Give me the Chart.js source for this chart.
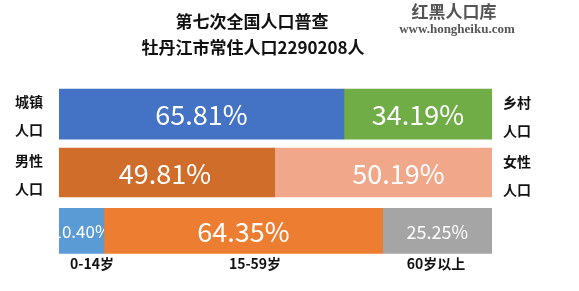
<!DOCTYPE html>
<html>
<head>
<meta charset="utf-8">
<script src="https://cdn.jsdelivr.net/npm/chart.js@4/dist/chart.umd.min.js"></script>
<style>
  html, body { margin: 0; padding: 0; background: #fff; }
  #wrap { width: 579px; height: 291px; position: relative; }
</style>
</head>
<body>
<div id="wrap"><canvas id="censusChart"></canvas></div>
<script>
// 牡丹江市 第七次人口普查 构成
const rows = ['城乡', '性别', '年龄'];
const urbanRural = [65.81, 34.19];
const maleFemale = [49.81, 50.19];
const ageGroups = [10.40, 64.35, 25.25];
const ageLabels = ['0-14岁', '15-59岁', '60岁以上'];
const leftLabels = [['城镇', '人口'], ['男性', '人口']];
const rightLabels = [['乡村', '人口'], ['女性', '人口']];
const titleLines = ['第七次全国人口普查', '牡丹江市常住人口2290208人'];

const CJK = '"Noto Sans CJK SC", "Noto Sans", sans-serif';

function onRow(rowIdx, value) {
  return rows.map((_, i) => (i === rowIdx ? value : null));
}

function seg(rowIdx, value, color, thickness, fontSize, shift = 0) {
  return {
    data: onRow(rowIdx, value),
    backgroundColor: color,
    barThickness: thickness,
    labelSize: fontSize,
    labelShift: shift,
  };
}

const datasets = [
  seg(0, urbanRural[0], '#4472C4', 50, 27),
  seg(0, urbanRural[1], '#70AD47', 50, 27),
  seg(1, maleFemale[0], '#D16D2A', 49, 27, -2),
  seg(1, maleFemale[1], '#F0A78A', 49, 27, 15),
  seg(2, ageGroups[0], '#5B9BD5', 45, 17),
  seg(2, ageGroups[1], '#ED7D31', 45, 27),
  seg(2, ageGroups[2], '#A5A5A5', 45, 18),
];

// percent text centred in each segment, clipped to the bar
const segmentLabels = {
  id: 'segmentLabels',
  afterDatasetsDraw(chart) {
    const { ctx } = chart;
    chart.data.datasets.forEach((ds, di) => {
      const meta = chart.getDatasetMeta(di);
      meta.data.forEach((el, i) => {
        const v = ds.data[i];
        if (v == null) return;
        const { x, y, base, height } = el.getProps(['x', 'y', 'base', 'height'], true);
        ctx.save();
        ctx.beginPath();
        ctx.rect(Math.min(x, base), y - height / 2, Math.abs(x - base), height);
        ctx.clip();
        ctx.fillStyle = '#fff';
        ctx.font = `${ds.labelSize}px ${CJK}`;
        ctx.textAlign = 'center';
        ctx.textBaseline = 'middle';
        ctx.fillText(v.toFixed(2) + '%', (x + base) / 2 + ds.labelShift, y + 1);
        ctx.restore();
      });
    });
  },
};

// titles, side captions and age captions
const captions = {
  id: 'captions',
  afterDraw(chart) {
    const { ctx, scales } = chart;
    const ys = scales.y;
    ctx.save();
    ctx.textBaseline = 'middle';
    ctx.textAlign = 'center';
    ctx.fillStyle = '#111';
    ctx.font = `bold 17px ${CJK}`;
    ctx.fillText(titleLines[0], 252, 22);
    ctx.fillText(titleLines[1], 253, 48);

    ctx.fillStyle = '#555';
    ctx.font = `bold 17px ${CJK}`;
    ctx.fillText('红黑人口库', 454, 12);
    ctx.font = 'bold 13px "Liberation Serif", serif';
    ctx.fillText('www.hongheiku.com', 457, 30);

    ctx.fillStyle = '#111';
    ctx.font = `bold 14px ${CJK}`;
    ctx.textAlign = 'left';
    leftLabels.forEach((pair, i) => {
      const cy = ys.getPixelForValue(i);
      ctx.fillText(pair[0], 15, cy - 12);
      ctx.fillText(pair[1], 15, cy + 16);
    });
    rightLabels.forEach((pair, i) => {
      const cy = ys.getPixelForValue(i);
      ctx.fillText(pair[0], 503, cy - 11);
      ctx.fillText(pair[1], 503, cy + 17);
    });

    ctx.textAlign = 'center';
    ctx.font = `bold 14px ${CJK}`;
    const ageY = ys.getPixelForValue(2) + 33;
    ctx.fillText(ageLabels[0], 92, ageY);
    ctx.fillText(ageLabels[1], 255, ageY);
    ctx.fillText(ageLabels[2], 436, ageY);
    ctx.restore();
  },
};

new Chart(document.getElementById('censusChart'), {
  type: 'bar',
  data: { labels: rows, datasets },
  options: {
    indexAxis: 'y',
    responsive: true,
    maintainAspectRatio: false,
    animation: false,
    layout: { padding: { left: 59, right: 87, top: 85, bottom: 31 } },
    scales: {
      x: { stacked: true, min: 0, max: 100, display: false },
      y: { stacked: true, display: false },
    },
    plugins: {
      legend: { display: false },
      tooltip: { enabled: false },
    },
  },
  plugins: [segmentLabels, captions],
});
</script>
</body>
</html>
